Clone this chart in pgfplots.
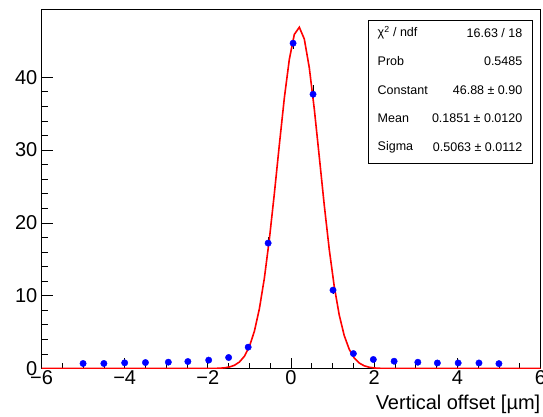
\documentclass[border=0pt]{standalone}
\usepackage{fontspec}
\setmainfont{Liberation Sans}
\usepackage{pgfplots}
\pgfplotsset{compat=1.18}

% measured points (x, content, error)
\pgfplotstableread{
x     y      e
-5.00 0.69   0.06
-4.50 0.69   0.06
-4.00 0.78   0.06
-3.50 0.82   0.06
-2.95 0.87   0.07
-2.48 0.96   0.07
-1.98 1.15   0.08
-1.50 1.51   0.10
-1.03 2.93   0.20
-0.55 17.22  0.80
 0.05 44.67  0.85
 0.53 37.66  1.30
 1.01 10.76  0.50
 1.50 2.05   0.15
 1.98 1.24   0.08
 2.48 1.00   0.07
 3.05 0.86   0.06
 3.52 0.76   0.06
 4.02 0.76   0.06
 4.52 0.76   0.06
 5.00 0.67   0.06
}\points

% gaus fit, sampled at the drawn polyline nodes
\pgfplotstableread{
x      y
-6.00  0.0
-2.08  0.0021
-1.96  0.0059
-1.84  0.0157
-1.72  0.0395
-1.60  0.0937
-1.48  0.2101
-1.36  0.4455
-1.24  0.8924
-1.12  1.690
-1.00  3.029
-0.88  5.128
-0.76  8.210
-0.64  12.425
-0.52  17.776
-0.40  24.043
-0.28  30.743
-0.16  37.162
-0.04  42.468
 0.08  45.881
 0.20  46.860
 0.32  45.245
 0.44  41.300
 0.56  35.641
 0.68  29.075
 0.80  22.424
 0.92  16.348
 1.04  11.269
 1.16  7.343
 1.28  4.523
 1.40  2.634
 1.52  1.450
 1.64  0.755
 1.76  0.3715
 1.88  0.1728
 2.00  0.0760
 2.12  0.0316
 2.24  0.0124
 2.36  0.0045
 6.00  0.0
}\fit

\begin{document}
\begin{tikzpicture}
\useasboundingbox (0,0) rectangle (543pt,416pt);
\begin{axis}[
  at={(41.5pt,47.5pt)}, anchor=south west,
  width=499pt, height=359pt, scale only axis,
  xmin=-6, xmax=6, ymin=0, ymax=49.3,
  xtick={-6,-4,...,6},
  xticklabels={−6,−4,−2,0,2,4,6},
  ytick={0,10,20,30,40},
  minor x tick num=3, minor y tick num=4,
  tick pos=left, tick align=inside,
  major tick length=11pt, minor tick length=6pt,
  tick style={black, line width=0.7pt},
  axis line style={line width=0.8pt},
  ticklabel style={font=\fontsize{20}{22}\selectfont},
  xticklabel style={inner sep=2pt},
  yticklabel style={inner sep=4pt},
  /pgf/number format/assume math mode=true,
  xlabel={Vertical offset [µm]},
  xlabel style={at={(rel axis cs:1,0)}, anchor=base east, yshift=-40.5pt,
    inner sep=0pt, font=\fontsize{20}{22}\selectfont},
]
\addplot[only marks, mark=*, mark size=3.2pt, blue,
  error bars/.cd, y dir=both, y explicit,
  error bar style={black, line width=0.8pt}, error mark=none]
  table[x=x, y=y, y error=e] {\points};
\addplot[red, line width=1.6pt, no markers] table[x=x, y=y] {\fit};
\end{axis}

% stats box
\draw[line width=0.8pt, fill=white] (368pt,253pt) rectangle (532pt,396pt);
\begin{scope}[every node/.style={font=\fontsize{12.5}{14}\selectfont, inner sep=0pt}]
\node[anchor=west] at (377.5pt,383pt) {χ\textsuperscript{2} / ndf};
\node[anchor=east] at (522.5pt,383pt) {16.63 / 18};
\node[anchor=west] at (377.5pt,354.7pt) {Prob};
\node[anchor=east] at (522.5pt,354.7pt) {0.5485};
\node[anchor=west] at (377.5pt,326pt) {Constant};
\node[anchor=east] at (522.5pt,326pt) {46.88 ± 0.90};
\node[anchor=west] at (377.5pt,297.5pt) {Mean};
\node[anchor=east] at (522.5pt,297.5pt) {0.1851 ± 0.0120};
\node[anchor=west] at (377.5pt,269pt) {Sigma};
\node[anchor=east] at (522.5pt,269pt) {0.5063 ± 0.0112};
\end{scope}
\end{tikzpicture}
\end{document}
